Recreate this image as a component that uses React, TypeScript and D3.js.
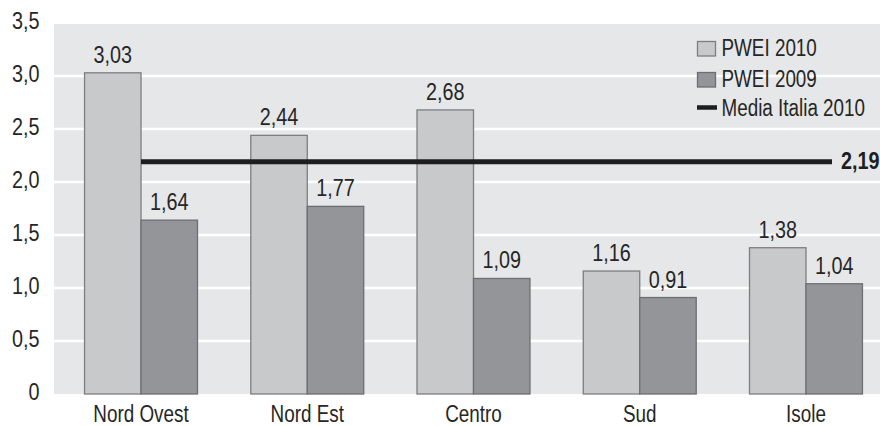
import React from "react";
import * as d3 from "d3";

// Regions and PWEI values
const categories = ["Nord Ovest", "Nord Est", "Centro", "Sud", "Isole"];
const pwei2010 = [3.03, 2.44, 2.68, 1.16, 1.38];
const pwei2009 = [1.64, 1.77, 1.09, 0.91, 1.04];
const mediaItalia2010 = 2.19;
const yTicks = [0, 0.5, 1, 1.5, 2, 2.5, 3, 3.5];
const seriesNames = ["PWEI 2010", "PWEI 2009"];
const lineName = "Media Italia 2010";

const W = 880;
const H = 426;
const FONT = "'Liberation Sans', Arial, sans-serif";
const FS = 23;
const SQUEEZE_NUM = 0.86; // condensed look for figures
const SQUEEZE_TXT = 0.82; // condensed look for words
const TEXT = "#262626";
const BG = "#e6e7e8";
const FILL_2010 = "#c8c9cb";
const STROKE_2010 = "#7d7e80";
const FILL_2009 = "#939598";
const STROKE_2009 = "#6d6e71";

const fmt = (v: number) => d3.format(".2f")(v).replace(".", ",");
const fmtTick = (v: number) => (v === 0 ? "0" : d3.format(".1f")(v).replace(".", ","));

type TProps = {
  x: number;
  y: number;
  anchor?: "start" | "middle" | "end";
  baseline?: string;
  bold?: boolean;
  color?: string;
  squeeze?: number;
  children: React.ReactNode;
};

// Horizontally compressed text label
function T({ x, y, anchor = "start", baseline, bold, color = TEXT, squeeze = SQUEEZE_NUM, children }: TProps) {
  return (
    <text
      transform={`translate(${x},${y}) scale(${squeeze},1)`}
      textAnchor={anchor}
      dominantBaseline={baseline}
      fontSize={FS}
      fontWeight={bold ? "bold" : "normal"}
      fill={color}
    >
      {children}
    </text>
  );
}

export default function App() {
  const plotLeft = 54;
  const plotRight = W;
  const plotTop = 24;
  const plotBottom = 394;

  const y = d3.scaleLinear().domain([0, 3.5]).range([plotBottom, 23]);
  const x = d3.scaleBand<string>().domain(categories).range([57.9, 889.1]).padding(0);
  const xs = d3
    .scaleBand<string>()
    .domain(["2010", "2009"])
    .range([0, x.bandwidth()])
    .paddingInner(0)
    .paddingOuter(0.472);

  const bw = xs.bandwidth();
  const lineStart = (x(categories[0]) ?? 0) + x.bandwidth() / 2;
  const lineEnd = 832;
  const yMedia = y(mediaItalia2010);

  return (
    <svg
      width={W}
      height={H}
      style={{ position: "absolute", left: 0, top: 0, display: "block" }}
      fontFamily={FONT}
    >
      <rect x={0} y={0} width={W} height={H} fill="#ffffff" />
      <rect x={plotLeft} y={plotTop} width={plotRight - plotLeft} height={plotBottom - plotTop} fill={BG} />

      {/* horizontal gridlines */}
      {yTicks
        .filter((t) => t > 0 && t < 3.5)
        .map((t) => (
          <line key={t} x1={plotLeft} x2={plotRight} y1={y(t)} y2={y(t)} stroke="#ffffff" strokeWidth={2.5} />
        ))}

      {/* y tick labels */}
      {yTicks.map((t) => (
        <T key={t} x={39.5} y={y(t) - 1.5} anchor="end" baseline="central">
          {fmtTick(t)}
        </T>
      ))}

      {/* bars */}
      {categories.map((c, i) => {
        const gx = x(c) ?? 0;
        const x10 = gx + (xs("2010") ?? 0);
        const x09 = gx + (xs("2009") ?? 0);
        return (
          <g key={c}>
            <rect
              x={x10}
              y={y(pwei2010[i])}
              width={bw}
              height={plotBottom - y(pwei2010[i])}
              fill={FILL_2010}
              stroke={STROKE_2010}
              strokeWidth={1.3}
            />
            <rect
              x={x09}
              y={y(pwei2009[i])}
              width={bw}
              height={plotBottom - y(pwei2009[i])}
              fill={FILL_2009}
              stroke={STROKE_2009}
              strokeWidth={1.3}
            />
            <T x={x10 + bw / 2} y={y(pwei2010[i]) - 10} anchor="middle">
              {fmt(pwei2010[i])}
            </T>
            <T x={x09 + bw / 2} y={y(pwei2009[i]) - 10} anchor="middle">
              {fmt(pwei2009[i])}
            </T>
            <T x={gx + x.bandwidth() / 2} y={421.5} anchor="middle" squeeze={SQUEEZE_TXT}>
              {c}
            </T>
          </g>
        );
      })}

      {/* national average line */}
      <line x1={lineStart} x2={lineEnd} y1={yMedia} y2={yMedia} stroke="#1e1e1e" strokeWidth={5} />
      <T x={841} y={yMedia} baseline="central" bold color="#1e1e1e">
        {fmt(mediaItalia2010)}
      </T>

      {/* legend */}
      <g>
        <rect x={697.5} y={41.5} width={18} height={14.5} fill={FILL_2010} stroke={STROKE_2010} strokeWidth={1.3} />
        <T x={721.5} y={56} squeeze={SQUEEZE_TXT}>{seriesNames[0]}</T>
        <rect x={697.5} y={72.5} width={18} height={14.5} fill={FILL_2009} stroke={STROKE_2009} strokeWidth={1.3} />
        <T x={721.5} y={87} squeeze={SQUEEZE_TXT}>{seriesNames[1]}</T>
        <line x1={697} x2={717} y1={107.5} y2={107.5} stroke="#1e1e1e" strokeWidth={4.5} />
        <T x={721.5} y={116} squeeze={SQUEEZE_TXT}>{lineName}</T>
      </g>
    </svg>
  );
}
